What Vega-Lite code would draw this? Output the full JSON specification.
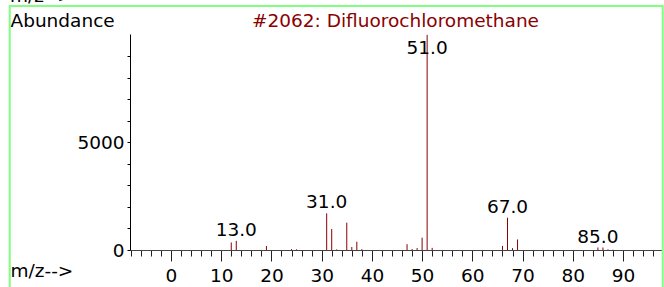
{
  "$schema": "https://vega.github.io/schema/vega-lite/v6.json",
  "width": 532,
  "height": 216,
  "autosize": {"type": "none"},
  "padding": {"left": 130, "top": 34, "right": 2, "bottom": 37},
  "background": "white",
  "config": {
    "view": {"stroke": null},
    "font": "DejaVu Sans",
    "axis": {
      "labelFontSize": 18.5,
      "labelFont": "DejaVu Sans",
      "labelColor": "black",
      "labelFlush": false,
      "labelOverlap": false,
      "grid": false,
      "titleFont": "DejaVu Sans",
      "titleFontWeight": "normal",
      "titleFontSize": 18.5,
      "titleColor": "black",
      "titleAnchor": "start",
      "titleAlign": "left",
      "titleBaseline": "alphabetic"
    }
  },
  "data": {
    "values": [
      {"mz": 12, "abundance": 350},
      {"mz": 13, "abundance": 425},
      {"mz": 19, "abundance": 185},
      {"mz": 24, "abundance": 40},
      {"mz": 25, "abundance": 30},
      {"mz": 31, "abundance": 1705},
      {"mz": 32, "abundance": 975},
      {"mz": 33, "abundance": 30},
      {"mz": 35, "abundance": 1270},
      {"mz": 36, "abundance": 140},
      {"mz": 37, "abundance": 385},
      {"mz": 38, "abundance": 40},
      {"mz": 47, "abundance": 270},
      {"mz": 48, "abundance": 45},
      {"mz": 49, "abundance": 90},
      {"mz": 50, "abundance": 575},
      {"mz": 51, "abundance": 9999},
      {"mz": 52, "abundance": 100},
      {"mz": 66, "abundance": 190},
      {"mz": 67, "abundance": 1500},
      {"mz": 68, "abundance": 85},
      {"mz": 69, "abundance": 490},
      {"mz": 85, "abundance": 115},
      {"mz": 86, "abundance": 115},
      {"mz": 87, "abundance": 30},
      {"mz": 88, "abundance": 15}
    ]
  },
  "layer": [
    {
      "mark": {"type": "rule", "color": "#8B0000", "strokeWidth": 1},
      "encoding": {
        "x": {
          "field": "mz", "type": "quantitative", "title": "m/z-->",
          "scale": {"domain": [-8.16, 97.76], "nice": false, "zero": false},
          "axis": {"orient": "bottom", "values": [-8,-6,-4,-2,0,2,4,6,8,10,12,14,16,18,20,22,24,26,28,30,32,34,36,38,40,42,44,46,48,50,52,54,56,58,60,62,64,66,68,70,72,74,76,78,80,82,84,86,88,90,92,94,96], "labelExpr": "datum.value % 10 === 0 ? datum.label : ''", "tickSize": {"condition": {"test": "datum.value % 10 === 0", "value": 11}, "value": 6}, "labelPadding": 5, "domainColor": "#444", "tickColor": "#222", "title": "m/z-->", "titleX": -120, "titleY": 26}
        },
        "y": {
          "field": "abundance", "type": "quantitative", "title": "Abundance",
          "scale": {"domain": [0, 10040], "nice": false},
          "axis": {"orient": "left", "values": [0,1000,2000,3000,4000,5000,6000,7000,8000,9000], "format": "d", "labelExpr": "datum.value === 0 || datum.value === 5000 ? datum.label : ''", "tickSize": 3, "labelPadding": 3, "domainColor": "black", "tickColor": "black", "title": "Abundance", "titleAngle": 0, "titleX": -120, "titleY": -8}
        },
        "y2": {"datum": 0}
      }
    },
    {
      "transform": [
        {"filter": "indexof([13, 31, 51, 67, 85], datum.mz) >= 0"},
        {"calculate": "format(datum.mz, '.1f')", "as": "label"},
        {"calculate": "min(datum.abundance, 8900)", "as": "labelAt"}
      ],
      "mark": {"type": "text", "fontSize": 18.5, "font": "DejaVu Sans", "baseline": "alphabetic", "align": "center", "dy": -5, "color": "black"},
      "encoding": {
        "x": {
          "field": "mz", "type": "quantitative", "title": "m/z-->",
          "scale": {"domain": [-8.16, 97.76], "nice": false, "zero": false},
          "axis": {"orient": "bottom", "values": [-8,-6,-4,-2,0,2,4,6,8,10,12,14,16,18,20,22,24,26,28,30,32,34,36,38,40,42,44,46,48,50,52,54,56,58,60,62,64,66,68,70,72,74,76,78,80,82,84,86,88,90,92,94,96], "labelExpr": "datum.value % 10 === 0 ? datum.label : ''", "tickSize": {"condition": {"test": "datum.value % 10 === 0", "value": 11}, "value": 6}, "labelPadding": 5, "domainColor": "#444", "tickColor": "#222", "title": "m/z-->", "titleX": -120, "titleY": 26}
        },
        "y": {
          "field": "labelAt", "type": "quantitative", "title": "Abundance",
          "scale": {"domain": [0, 10040], "nice": false},
          "axis": {"orient": "left", "values": [0,1000,2000,3000,4000,5000,6000,7000,8000,9000], "format": "d", "labelExpr": "datum.value === 0 || datum.value === 5000 ? datum.label : ''", "tickSize": 3, "labelPadding": 3, "domainColor": "black", "tickColor": "black", "title": "Abundance", "titleAngle": 0, "titleX": -120, "titleY": -8}
        },
        "text": {"field": "label"}
      }
    },
    {
      "data": {"values": [{}]},
      "mark": {"type": "rect", "filled": false, "stroke": "#80ff80", "strokeWidth": 2, "clip": false},
      "encoding": {
        "x": {
          "datum": -32.1, "type": "quantitative", "title": "m/z-->",
          "scale": {"domain": [-8.16, 97.76], "nice": false, "zero": false},
          "axis": {"orient": "bottom", "values": [-8,-6,-4,-2,0,2,4,6,8,10,12,14,16,18,20,22,24,26,28,30,32,34,36,38,40,42,44,46,48,50,52,54,56,58,60,62,64,66,68,70,72,74,76,78,80,82,84,86,88,90,92,94,96], "labelExpr": "datum.value % 10 === 0 ? datum.label : ''", "tickSize": {"condition": {"test": "datum.value % 10 === 0", "value": 11}, "value": 6}, "labelPadding": 5, "domainColor": "#444", "tickColor": "#222", "title": "m/z-->", "titleX": -120, "titleY": 26}
        },
        "x2": {"datum": 97.9},
        "y": {
          "datum": 11340, "type": "quantitative", "title": "Abundance",
          "scale": {"domain": [0, 10040], "nice": false},
          "axis": {"orient": "left", "values": [0,1000,2000,3000,4000,5000,6000,7000,8000,9000], "format": "d", "labelExpr": "datum.value === 0 || datum.value === 5000 ? datum.label : ''", "tickSize": 3, "labelPadding": 3, "domainColor": "black", "tickColor": "black", "title": "Abundance", "titleAngle": 0, "titleX": -120, "titleY": -8}
        },
        "y2": {"datum": -2500}
      }
    },
    {
      "data": {"values": [{}]},
      "mark": {"type": "text", "text": "#2062: Difluorochloromethane", "fontSize": 18.5, "font": "DejaVu Sans", "baseline": "alphabetic", "align": "center", "color": "#8B0000", "clip": false},
      "encoding": {
        "x": {
          "datum": 44.7, "type": "quantitative", "title": "m/z-->",
          "scale": {"domain": [-8.16, 97.76], "nice": false, "zero": false},
          "axis": {"orient": "bottom", "values": [-8,-6,-4,-2,0,2,4,6,8,10,12,14,16,18,20,22,24,26,28,30,32,34,36,38,40,42,44,46,48,50,52,54,56,58,60,62,64,66,68,70,72,74,76,78,80,82,84,86,88,90,92,94,96], "labelExpr": "datum.value % 10 === 0 ? datum.label : ''", "tickSize": {"condition": {"test": "datum.value % 10 === 0", "value": 11}, "value": 6}, "labelPadding": 5, "domainColor": "#444", "tickColor": "#222", "title": "m/z-->", "titleX": -120, "titleY": 26}
        },
        "y": {
          "datum": 10351, "type": "quantitative", "title": "Abundance",
          "scale": {"domain": [0, 10040], "nice": false},
          "axis": {"orient": "left", "values": [0,1000,2000,3000,4000,5000,6000,7000,8000,9000], "format": "d", "labelExpr": "datum.value === 0 || datum.value === 5000 ? datum.label : ''", "tickSize": 3, "labelPadding": 3, "domainColor": "black", "tickColor": "black", "title": "Abundance", "titleAngle": 0, "titleX": -120, "titleY": -8}
        }
      }
    },
    {
      "data": {"values": [{}]},
      "mark": {"type": "text", "text": "m/z-->", "fontSize": 18.5, "font": "DejaVu Sans", "baseline": "alphabetic", "align": "left", "color": "black", "clip": false},
      "encoding": {
        "x": {
          "datum": -32.06, "type": "quantitative", "title": "m/z-->",
          "scale": {"domain": [-8.16, 97.76], "nice": false, "zero": false},
          "axis": {"orient": "bottom", "values": [-8,-6,-4,-2,0,2,4,6,8,10,12,14,16,18,20,22,24,26,28,30,32,34,36,38,40,42,44,46,48,50,52,54,56,58,60,62,64,66,68,70,72,74,76,78,80,82,84,86,88,90,92,94,96], "labelExpr": "datum.value % 10 === 0 ? datum.label : ''", "tickSize": {"condition": {"test": "datum.value % 10 === 0", "value": 11}, "value": 6}, "labelPadding": 5, "domainColor": "#444", "tickColor": "#222", "title": "m/z-->", "titleX": -120, "titleY": 26}
        },
        "y": {
          "datum": 11527, "type": "quantitative", "title": "Abundance",
          "scale": {"domain": [0, 10040], "nice": false},
          "axis": {"orient": "left", "values": [0,1000,2000,3000,4000,5000,6000,7000,8000,9000], "format": "d", "labelExpr": "datum.value === 0 || datum.value === 5000 ? datum.label : ''", "tickSize": 3, "labelPadding": 3, "domainColor": "black", "tickColor": "black", "title": "Abundance", "titleAngle": 0, "titleX": -120, "titleY": -8}
        }
      }
    }
  ]
}
